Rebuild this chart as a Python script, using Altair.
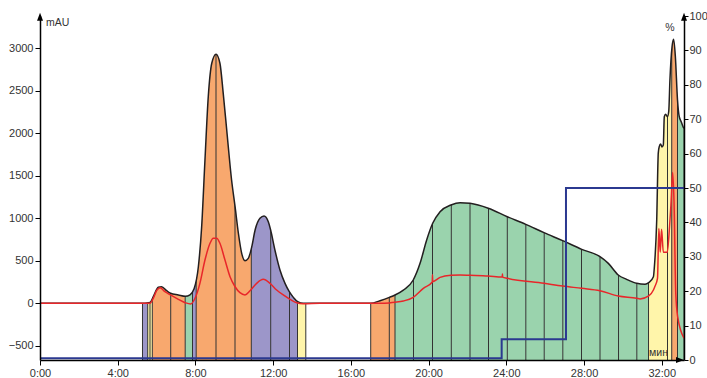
import altair as alt
import pandas as pd

FONT = "Liberation Sans"

# ---------------- data ----------------
uv_time = [0.0, 5.15, 5.66, 5.83, 6.09, 6.26, 6.52, 6.72, 7.12, 7.48, 7.72, 7.93, 8.15, 8.32, 8.49,
           8.66, 8.84, 9.06, 9.26, 9.43, 9.61, 9.86, 10.04, 10.21, 10.38, 10.55, 10.72, 10.90,
           11.07, 11.32, 11.53, 11.75, 11.87, 12.09, 12.35, 12.61, 12.83, 13.04, 13.26, 13.55,
           17.02, 17.50, 17.98, 18.27, 18.70, 19.21, 19.56, 19.90, 20.21, 20.59, 21.15, 21.62,
           22.13, 23.07, 24.05, 25.00, 25.94, 26.90, 27.88, 28.82, 29.25, 29.76, 30.19, 30.71,
           31.14, 31.33, 31.57, 31.62, 31.74, 31.82, 31.87, 31.94, 32.01, 32.08, 32.13, 32.20,
           32.29, 32.36, 32.42, 32.53, 32.61, 32.70, 32.81, 32.90, 33.00, 33.11, 33.144]
uv_mau = [0, 0, 10, 78, 188, 195, 148, 118, 98, 82, 100, 170, 430, 901, 1686,
          2430, 2824, 2930, 2824, 2470, 2039, 1451, 1137, 824, 588, 501, 529, 666,
          862, 1000, 1027, 960, 862, 627, 392, 235, 137, 70, 19, 0,
          0, 31, 70, 98, 156, 274, 470, 745, 941, 1078, 1156, 1184,
          1176, 1118, 1019, 929, 831, 737, 635, 549, 470, 333, 282, 235,
          224, 243, 313, 431, 980, 1767, 1843, 1874, 1840, 1862, 2195, 2224,
          2195, 2260, 2627, 3019, 3106, 2901, 2392, 2195, 2137, 2071, 2060]

cond_time = [0.0, 5.66, 5.83, 6.00, 6.18, 6.43, 6.72, 7.12, 7.48, 7.75, 7.98, 8.23, 8.49, 8.75,
             8.92, 9.09, 9.26, 9.52, 9.78, 10.04, 10.29, 10.55, 10.81, 11.15, 11.49, 11.84,
             12.18, 12.52, 12.87, 13.21, 13.55, 14.41, 17.50, 17.98, 18.27, 18.70, 19.21,
             19.73, 20.19, 20.20, 20.21, 20.59, 21.15, 21.62, 22.13, 23.07, 23.79, 23.80,
             23.81, 24.05, 25.94, 26.90, 27.88, 28.82, 29.76, 30.71, 30.88, 31.33, 31.57,
             31.65, 31.78, 31.85, 31.92, 31.99, 32.08, 32.28, 32.40, 32.47, 32.56, 32.63,
             32.72, 32.82, 33.144]
cond_val = [0, 0, 59, 148, 184, 137, 98, 47, 7, -8, 59, 235, 509, 706,
            765, 765, 706, 509, 313, 195, 125, 98, 148, 235, 282, 235,
            156, 98, 47, 7, -5, 0, 0, 5, 12, 27, 70,
            176, 250, 335, 255, 305, 329, 333, 329, 321, 308, 345,
            308, 294, 235, 203, 176, 148, 86, 59, 51, 86, 156,
            200, 294, 880, 600, 870, 600, 600, 900, 1150, 1540, 1200,
            120, -160, -410]

grad_time = [0.0, 23.76, 27.07, 33.144]
grad_pct = [0.5, 6, 50, 50]

frac_start = [5.275, 5.543, 5.661, 5.780, 6.727, 7.473, 7.849, 8.039, 9.058, 10.036, 10.875,
              11.873, 12.841, 13.253,
              17.020, 17.977, 18.271, 19.223, 20.201, 21.168, 22.131, 23.083, 24.050, 25.003,
              25.950, 26.907, 27.869, 28.821, 29.774, 30.716, 31.318, 32.295, 32.512, 32.810]
frac_end = [5.543, 5.661, 5.780, 6.727, 7.473, 7.849, 8.039, 9.058, 10.036, 10.875, 11.873,
            12.841, 13.253, 13.680,
            17.977, 18.271, 19.223, 20.201, 21.168, 22.131, 23.083, 24.050, 25.003, 25.950,
            26.907, 27.869, 28.821, 29.774, 30.716, 31.318, 32.295, 32.512, 32.810, 33.144]
frac_kind = ["purple", "yellow", "yellow", "orange", "orange", "green", "purple", "orange",
             "orange", "orange", "purple", "purple", "purple", "yellow",
             "orange", "orange", "green", "green", "green", "green", "green", "green", "green",
             "green", "green", "green", "green", "green", "green", "green", "yellow", "yellow",
             "orange", "green"]

x_ticks = [0, 4, 8, 12, 16, 20, 24, 28, 32]
left_ticks = [-500, 0, 500, 1000, 1500, 2000, 2500, 3000]
right_ticks = list(range(0, 101, 10))

# ---------------- scales / axes ----------------
X_MAX = 33.144
Y_MIN, Y_MAX = -667, 3380

kind_domain = ["orange", "purple", "green", "yellow"]
kind_range = ["#F8A86E", "#9C96C9", "#9AD3AD", "#FFF5AA"]

xscale = alt.Scale(domain=[0, X_MAX], nice=False, zero=False)
yscale = alt.Scale(domain=[Y_MIN, Y_MAX], nice=False, zero=False)

common_axis = dict(grid=False, title=None, domainColor="black", domainWidth=1.5,
                   tickColor="black", tickWidth=1, labelFontSize=11, labelColor="#333333",
                   labelFont=FONT, zindex=1)

x_axis = alt.Axis(values=x_ticks, labelExpr="datum.value + ':00'", tickSize=5,
                  labelPadding=2, labelFlush=False, **common_axis)
y_axis = alt.Axis(values=left_ticks, format="d", tickSize=5, labelPadding=2, **common_axis)
r_axis = alt.Axis(values=right_ticks, format="d", orient="right", tickSize=4, labelPadding=1,
                  **common_axis)


def X(f):
    return alt.X(f, type="quantitative", scale=xscale, axis=x_axis)


def Y(f):
    return alt.Y(f, type="quantitative", scale=yscale, axis=y_axis)


uv_df = pd.DataFrame({"t": uv_time, "v": uv_mau})
uv_df["top"] = Y_MAX
cond_df = pd.DataFrame({"t": cond_time, "v": cond_val})
grad_df = pd.DataFrame({"t": grad_time, "p": grad_pct})
frac_df = pd.DataFrame({"start": frac_start, "end": frac_end, "kind": frac_kind})
frac_df["lo"] = Y_MIN
frac_df["hi"] = Y_MAX
bounds = sorted(set(frac_start) | set(frac_end))
bound_df = pd.DataFrame({"t": bounds})
bound_df["lo"] = Y_MIN
bound_df["hi"] = Y_MAX

rects = alt.Chart(frac_df).mark_rect().encode(
    x=X("start"), x2="end", y=Y("lo"), y2="hi",
    color=alt.Color("kind:N", scale=alt.Scale(domain=kind_domain, range=kind_range), legend=None),
)
rules = alt.Chart(bound_df).mark_rule(color="#333333", strokeWidth=1).encode(
    x=X("t"), y=Y("lo"), y2="hi")
mask = alt.Chart(uv_df).mark_area(color="white", opacity=1, interpolate="monotone").encode(
    x=X("t"), y=Y("v"), y2="top")
uv_line = alt.Chart(uv_df).mark_line(color="#231F20", strokeWidth=1.5, interpolate="monotone").encode(
    x=X("t"), y=Y("v"))
red_line = alt.Chart(cond_df).mark_line(color="#E8262A", strokeWidth=1.5, interpolate="monotone").encode(
    x=X("t"), y=Y("v"))

arrow_up_df = pd.DataFrame({"t": [0, X_MAX], "v": [Y_MAX, Y_MAX]})
arrow_r_df = pd.DataFrame({"t": [X_MAX], "v": [Y_MIN]})
arrows_up = alt.Chart(arrow_up_df).mark_point(
    shape="M0,-0.8 L0.75,1.2 L-0.75,1.2 Z", filled=True, size=64, color="black", opacity=1
).encode(x=X("t"), y=Y("v"))
arrow_r = alt.Chart(arrow_r_df).mark_point(
    shape="M0,0 L-2,-0.75 L-2,0.75 Z", filled=True, size=64, color="black", opacity=1
).encode(x=X("t"), y=Y("v"))

txt_mau = alt.Chart(pd.DataFrame({"t": [0], "v": [Y_MAX], "s": ["mAU"]})).mark_text(
    align="left", baseline="middle", dx=6, dy=7, fontSize=10.5, font=FONT, color="#333333"
).encode(x=X("t"), y=Y("v"), text="s")
txt_pct = alt.Chart(pd.DataFrame({"t": [X_MAX], "v": [Y_MAX], "s": ["%"]})).mark_text(
    align="center", baseline="middle", dx=-14, dy=12, fontSize=10.5, font=FONT, color="#333333"
).encode(x=X("t"), y=Y("v"), text="s")
txt_min = alt.Chart(pd.DataFrame({"t": [X_MAX], "v": [Y_MIN], "s": ["мин"]})).mark_text(
    align="right", baseline="middle", dx=-16, dy=-7, fontSize=10.5, font=FONT, color="#333333"
).encode(x=X("t"), y=Y("v"), text="s")

left = alt.layer(rects, rules, mask, uv_line, red_line, arrows_up, arrow_r, txt_mau, txt_pct, txt_min)

blue = alt.Chart(grad_df).mark_line(color="#2B3990", strokeWidth=2, interpolate="step-after").encode(
    x=X("t"),
    y=alt.Y("p", type="quantitative", scale=alt.Scale(domain=[0, 100], nice=False, zero=False), axis=r_axis),
)

chart = alt.layer(left, blue).resolve_scale(y="independent").properties(
    width=644, height=344,
    autosize=alt.AutoSizeParams(type="none"),
    padding={"left": 40, "top": 16, "right": 23, "bottom": 18},
    background="white",
).configure_view(stroke=None)

chart.save("out.html", embed_options={"renderer": "svg", "actions": False})
